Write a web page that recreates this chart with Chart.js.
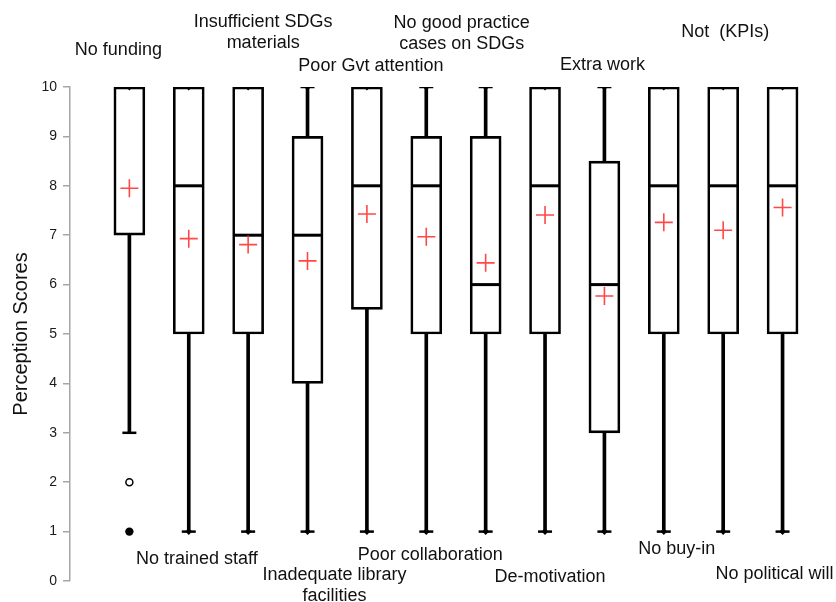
<!DOCTYPE html>
<html>
<head>
<meta charset="utf-8">
<script src="https://cdn.jsdelivr.net/npm/chart.js@4.4.1/dist/chart.umd.min.js"></script>
<style>
  html, body { margin: 0; padding: 0; background: #ffffff; }
  #wrap { width: 836px; height: 602px; position: relative; }
</style>
</head>
<body>
<div id="wrap"><canvas id="chart"></canvas></div>
<script>
// Barrier categories (multi-line names as arrays of lines)
const categories = [
  ["No funding"],
  ["No trained staff"],
  ["Insufficient SDGs", "materials"],
  ["Inadequate library", "facilities"],
  ["Poor Gvt attention"],
  ["Poor collaboration"],
  ["No good practice", "cases on SDGs"],
  ["De-motivation"],
  ["Extra work"],
  ["No buy-in"],
  ["Not  (KPIs)"],
  ["No political will"]
];

// Box-plot statistics per category
const minimums  = [1, 1, 1, 1, 1, 1, 1, 1, 1, 1, 1, 1];
const whiskerLo = [3, 1, 1, 1, 1, 1, 1, 1, 1, 1, 1, 1];
const q1s       = [7, 5, 5, 4, 5.5, 5, 5, 5, 3, 5, 5, 5];
const medians   = [10, 8, 7, 7, 8, 8, 6, 8, 6, 8, 8, 8];
const q3s       = [10, 10, 10, 9, 10, 9, 9, 10, 8.5, 10, 10, 10];
const maximums  = [10, 10, 10, 10, 10, 10, 10, 10, 10, 10, 10, 10];
const means     = [7.95, 6.93, 6.81, 6.48, 7.43, 6.97, 6.44, 7.41, 5.77, 7.26, 7.10, 7.56];

// Outliers: [category index, value]
const mildOutliers    = [[0, 2]];
const extremeOutliers = [[0, 1]];

// Y-axis ticks
const yTicks = [0, 1, 2, 3, 4, 5, 6, 7, 8, 9, 10];

// Category label placement: horizontal shift from the box and vertical position
const labelLayout = [
  { dx: -11, y: 50 },
  { dx: 8, y: 559 },
  { dx: 15, y: 22 },
  { dx: 27, y: 575 },
  { dx: 4, y: 66 },
  { dx: 4, y: 555 },
  { dx: -24, y: 23 },
  { dx: 5, y: 577 },
  { dx: -2, y: 65 },
  { dx: 13, y: 549 },
  { dx: 2, y: 32 },
  { dx: -8, y: 574 }
];

const pos = categories.map((_, i) => i + 1);
const nonOutlierMins = minimums.map((m, i) => (m < whiskerLo[i] ? null : m));

const boxData = pos.map((x, i) => ({ x, y: [q1s[i], q3s[i]] }));
const lowerWhisker = pos.map((x, i) => ({ x, y: [whiskerLo[i], q1s[i]] }));
const upperWhisker = pos.map((x, i) => ({ x, y: [q3s[i], maximums[i]] }));
const medianPts = pos.map((x, i) => ({ x, y: medians[i] }));
const meanPts = pos.map((x, i) => ({ x, y: means[i] }));
const capPts = pos.flatMap((x, i) => [{ x, y: whiskerLo[i] }, { x, y: maximums[i] }]);
const endPts = pos.flatMap((x, i) => {
  const out = [{ x, y: maximums[i] }];
  if (nonOutlierMins[i] !== null) out.push({ x, y: nonOutlierMins[i] });
  return out;
});
const mildPts = mildOutliers.map(([i, v]) => ({ x: pos[i], y: v }));
const extremePts = extremeOutliers.map(([i, v]) => ({ x: pos[i], y: v }));

// Draws the category names above / below their boxes
const categoryLabels = {
  id: 'categoryLabels',
  afterDraw(chart) {
    const { ctx, scales } = chart;
    ctx.save();
    ctx.fillStyle = '#111111';
    ctx.font = "18px 'Liberation Sans', Arial, sans-serif";
    ctx.textAlign = 'center';
    ctx.textBaseline = 'middle';
    categories.forEach((lines, i) => {
      const cx = scales.x.getPixelForValue(pos[i]) + labelLayout[i].dx;
      lines.forEach((t, k) => ctx.fillText(t, cx, labelLayout[i].y + k * 21));
    });
    ctx.restore();
  }
};

const barCommon = { type: 'bar', grouped: false, borderSkipped: false };

new Chart(document.getElementById('chart'), {
  data: {
    datasets: [
      { ...barCommon, label: 'box', data: boxData, barThickness: 31,
        backgroundColor: 'rgba(255,255,255,0)', borderColor: '#000000', borderWidth: 2, order: 5 },
      { ...barCommon, label: 'lower whisker', data: lowerWhisker, barThickness: 3,
        backgroundColor: '#000000', borderWidth: 0, order: 6 },
      { ...barCommon, label: 'upper whisker', data: upperWhisker, barThickness: 3,
        backgroundColor: '#000000', borderWidth: 0, order: 6 },
      { type: 'scatter', label: 'caps', data: capPts, pointStyle: 'line', pointRadius: 7,
        borderColor: '#000000', borderWidth: 2.5, order: 3 },
      { type: 'scatter', label: 'min/max', data: endPts, pointStyle: 'rectRot', pointRadius: 3.4,
        backgroundColor: '#000000', borderColor: '#000000', borderWidth: 0, order: 2 },
      { type: 'scatter', label: 'median', data: medianPts, pointStyle: 'line', pointRadius: 15,
        borderColor: '#000000', borderWidth: 3, order: 4 },
      { type: 'scatter', label: 'outliers', data: mildPts, pointStyle: 'circle', pointRadius: 3.5,
        backgroundColor: '#ffffff', borderColor: '#000000', borderWidth: 1.5, order: 2 },
      { type: 'scatter', label: 'extreme', data: extremePts, pointStyle: 'circle', pointRadius: 4.2,
        backgroundColor: '#000000', borderColor: '#000000', borderWidth: 0, order: 2 },
      { type: 'scatter', label: 'mean', data: meanPts, pointStyle: 'cross', pointRadius: 9,
        borderColor: 'rgba(255,40,40,0.85)', borderWidth: 1.6, order: 1 }
    ]
  },
  options: {
    responsive: true,
    maintainAspectRatio: false,
    animation: false,
    layout: { autoPadding: false, padding: { top: 87, bottom: 21, left: 0, right: 0 } },
    plugins: { legend: { display: false }, tooltip: { enabled: false } },
    scales: {
      x: { type: 'linear', min: 0, max: 12.9, offset: false, display: false,
        grid: { offset: false } },
      y: {
        min: 0, max: 10,
        afterBuildTicks(scale) { scale.ticks = yTicks.map(v => ({ value: v })); },
        afterFit(scale) { scale.width = 70; },
        ticks: { color: '#1a1a1a', padding: 6,
          font: { family: "'Liberation Sans', Arial, sans-serif", size: 14 } },
        grid: { display: true, drawOnChartArea: false, drawTicks: true, tickLength: 7, color: '#a6a6a6', lineWidth: 1.5 },
        border: { display: true, color: '#a6a6a6', width: 1.5 },
        title: { display: true, text: 'Perception Scores', color: '#111111',
          padding: { top: 9, bottom: 0 },
          font: { family: "'Liberation Sans', Arial, sans-serif", size: 20 } }
      }
    }
  },
  plugins: [categoryLabels]
});
</script>
</body>
</html>
